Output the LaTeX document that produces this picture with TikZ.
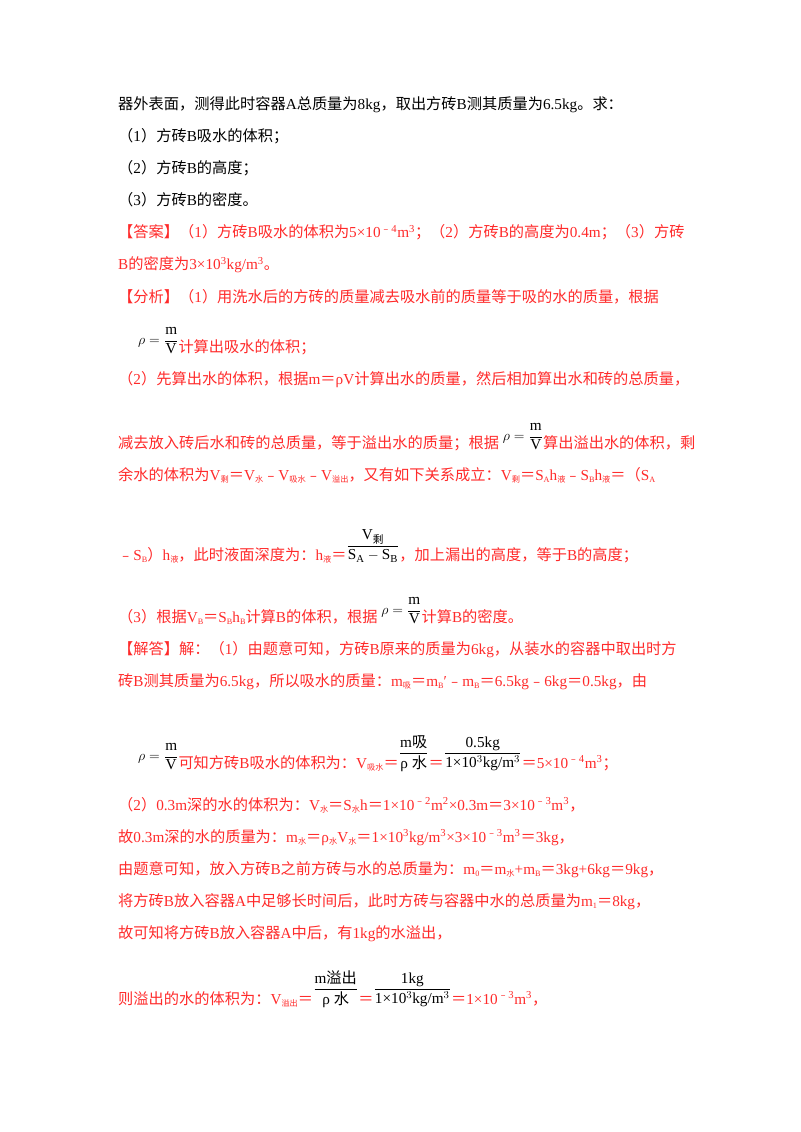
\documentclass[tikz,border=0pt]{standalone}
\usepackage{amsmath}
\usepackage{fontspec}
\setmainfont{Liberation Serif}
\newfontfamily\cjk{Noto Sans CJK SC}
\usetikzlibrary{positioning}
\definecolor{ansred}{HTML}{FF2A2A}
% CJK characters switch to the CJK family automatically
\XeTeXinterchartokenstate=1
\newXeTeXintercharclass\cjkclass
\newcommand\setcjkrange[2]{\count255=#1
  \loop\XeTeXcharclass\count255=\cjkclass
  \ifnum\count255<#2 \advance\count255 1 \repeat}
\setcjkrange{"4E00}{"9FFF}
\setcjkrange{"3000}{"303F}
\setcjkrange{"FF00}{"FFEF}
\setcjkrange{"FE30}{"FE6F}
\XeTeXinterchartoks 0 \cjkclass = {\cjk}
\XeTeXinterchartoks 4095 \cjkclass = {\cjk}
\XeTeXinterchartoks \cjkclass 0 = {\rmfamily}
\XeTeXinterchartoks \cjkclass 4095 = {\rmfamily}
\newcommand\sbt[1]{\raisebox{-0.35ex}{\scriptsize #1}}
\newcommand\rhof{\raisebox{1.1ex}{\color{black}$\rho=\dfrac{\mathrm m}{\mathrm V}$}}
\newcommand\fr[2]{\raisebox{1.6ex}{\color{black}$\dfrac{\text{#1}}{\text{#2}}$}}
\begin{document}
\begin{tikzpicture}[x=0.03cm,y=-0.03cm,
    line/.style={anchor=base west, inner sep=0pt, font=\fontsize{13}{15}\selectfont},
    ans/.style={line, text=ansred}]
\useasboundingbox (0,0) rectangle (800,1132);
% question
\node[line] (q0) at (118,110) {器外表面，测得此时容器A总质量为8kg，取出方砖B测其质量为6.5kg。求：};
\node[line] (q1) at (118,142) {（1）方砖B吸水的体积；};
\node[line] (q2) at (118,174) {（2）方砖B的高度；};
\node[line] (q3) at (118,206) {（3）方砖B的密度。};
% answer
\node[ans] (a1) at (118,238) {【答案】（1）方砖B吸水的体积为5×10\textsuperscript{﹣4}m\textsuperscript{3}；（2）方砖B的高度为0.4m；（3）方砖};
\node[ans] (a2) at (118,270) {B的密度为3×10\textsuperscript{3}kg/m\textsuperscript{3}。};
% analysis
\node[ans] (f1) at (118,302) {【分析】（1）用洗水后的方砖的质量减去吸水前的质量等于吸的水的质量，根据};
\node[ans] (f2) at (138,352) {\rhof 计算出吸水的体积；};
\node[ans] (f3) at (118,384) {（2）先算出水的体积，根据m＝ρV计算出水的质量，然后相加算出水和砖的总质量，};
\node[ans] (f4) at (118,448) {减去放入砖后水和砖的总质量，等于溢出水的质量；根据 \rhof 算出溢出水的体积，剩};
\node[ans] (f5) at (118,480) {余水的体积为V\sbt{剩}＝V\sbt{水}﹣V\sbt{吸水}﹣V\sbt{溢出}，又有如下关系成立：V\sbt{剩}＝S\sbt{A}h\sbt{液}﹣S\sbt{B}h\sbt{液}＝（S\sbt{A}};
\node[ans] (f6) at (118,560) {﹣S\sbt{B}）h\sbt{液}，此时液面深度为：h\sbt{液}＝\raisebox{1.4ex}{\color{black}$\dfrac{\mathrm{V}_{\text{剩}}}{\mathrm{S_A}-\mathrm{S_B}}$}，加上漏出的高度，等于B的高度；};
\node[ans] (f7) at (118,622) {（3）根据V\sbt{B}＝S\sbt{B}h\sbt{B}计算B的体积，根据 \rhof 计算B的密度。};
% solution
\node[ans] (s1) at (118,654) {【解答】解：（1）由题意可知，方砖B原来的质量为6kg，从装水的容器中取出时方};
\node[ans] (s2) at (118,686) {砖B测其质量为6.5kg，所以吸水的质量：m\sbt{吸}＝m\sbt{B}′﹣m\sbt{B}＝6.5kg﹣6kg＝0.5kg，由};
\node[ans] (s3) at (138,768) {\rhof 可知方砖B吸水的体积为：V\sbt{吸水}＝\fr{m吸}{ρ 水}＝\fr{0.5kg}{1×10$^3$kg/m$^3$}＝5×10\textsuperscript{﹣4}m\textsuperscript{3}；};
\node[ans] (s4) at (118,810) {（2）0.3m深的水的体积为：V\sbt{水}＝S\sbt{水}h＝1×10\textsuperscript{﹣2}m\textsuperscript{2}×0.3m＝3×10\textsuperscript{﹣3}m\textsuperscript{3}，};
\node[ans] (s5) at (118,842) {故0.3m深的水的质量为：m\sbt{水}＝ρ\sbt{水}V\sbt{水}＝1×10\textsuperscript{3}kg/m\textsuperscript{3}×3×10\textsuperscript{﹣3}m\textsuperscript{3}＝3kg，};
\node[ans] (s6) at (118,874) {由题意可知，放入方砖B之前方砖与水的总质量为：m\sbt{0}＝m\sbt{水}+m\sbt{B}＝3kg+6kg＝9kg，};
\node[ans] (s7) at (118,906) {将方砖B放入容器A中足够长时间后，此时方砖与容器中水的总质量为m\sbt{1}＝8kg，};
\node[ans] (s8) at (118,938) {故可知将方砖B放入容器A中后，有1kg的水溢出，};
\node[ans] (s9) at (118,1004) {则溢出的水的体积为：V\sbt{溢出}＝\fr{m溢出}{ρ 水}＝\fr{1kg}{1×10$^3$kg/m$^3$}＝1×10\textsuperscript{﹣3}m\textsuperscript{3}，};
\end{tikzpicture}
\end{document}
